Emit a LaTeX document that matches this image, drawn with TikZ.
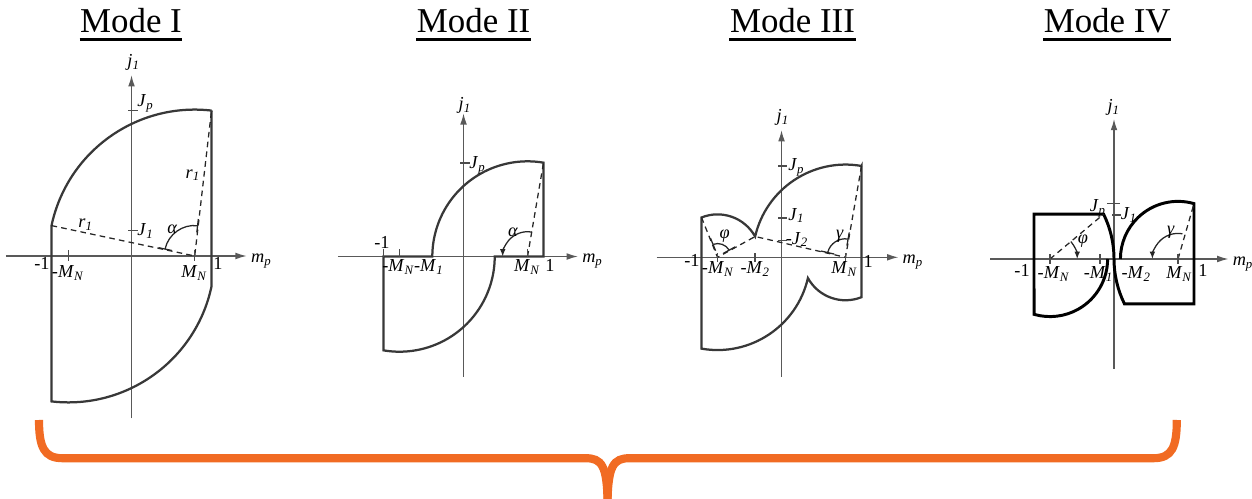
\documentclass[tikz,border=0pt]{standalone}
\usepackage{fontspec}
\setmainfont{Liberation Serif}
\usetikzlibrary{calc,arrows.meta}
\newcommand{\subsym}[2]{\textit{#1}\textsubscript{\textit{#2}}}
\definecolor{braceorange}{RGB}{241,107,35}
\tikzset{
ax/.style={line width=0.45pt,draw=black!65,-{Latex[length=4pt,width=2.4pt]}},
bound/.style={line width=0.8pt,draw=black!78},
rline/.style={line width=0.45pt,draw=black!85,dash pattern=on 2pt off 1.5pt},
angarc/.style={line width=0.45pt,draw=black!85},
angtip/.style={-{Latex[length=2.6pt,width=2pt]}},
tk/.style={line width=0.45pt,draw=black!70},
lbl/.style={font=\fontsize{6.5}{7.5}\selectfont,inner sep=0.5pt},
modetitle/.style={font=\fontsize{12.4}{15}\selectfont,inner sep=0pt,anchor=base},
brace/.style={line width=2.9pt,draw=braceorange}
}

\begin{document}
\begin{tikzpicture}
\useasboundingbox (0,0) rectangle (15.65,6.2375);
\foreach \t/\x/\s in {t1/1.6375/I,t2/5.92/II,t3/9.906/III,t4/13.84/IV}{
  \node[modetitle] (\t) at (\x,5.825) {Mode \s};
  \draw[line width=1pt] ([yshift=-2.3pt]\t.base west) -- ([yshift=-2.3pt]\t.base east);
}

% Mode I
\begin{scope}[shift={(1.644,3.0375)}]
\coordinate (MN) at (0.79,0); \coordinate (TR) at (1,1.818); \coordinate (TL) at (-1,0.38);
\draw[ax] (-1.57,0) -- (1.44,0);
\draw[ax] (0,-2.03) -- (0,2.26);
\draw[bound] (TR) -- (1,-0.38) arc[start angle=-11.99,end angle=-96.59,radius=1.83] -- (TL) arc[start angle=168.01,end angle=83.41,radius=1.83] -- cycle;
\draw[rline] (TL) -- (MN) -- (TR);
\draw[angarc,|-|] ([shift={(168.01:0.38)}]MN) arc[start angle=168.01,end angle=83.41,radius=0.38];
\foreach \x in {-0.79,0.79}{\draw[tk] (\x,-0.06) -- (\x,0.07);}
\foreach \y in {0.32,1.818}{\draw[tk] (-0.04,\y) -- (0.08,\y);}
\node[lbl] at (0.03,2.42) {\subsym{j}{1}};
\node[lbl,anchor=west] at (1.47,-0.06) {\subsym{m}{p}};
\node[lbl,anchor=base east] at (-1,-0.175) {-1};
\node[lbl,anchor=base west] at (1,-0.175) {1};
\node[lbl,anchor=base] at (-0.79,-0.266) {-\subsym{M}{N}};
\node[lbl,anchor=base] at (0.79,-0.266) {\subsym{M}{N}};
\node[lbl,anchor=base west] at (0.05,1.87) {\subsym{J}{p}};
\node[lbl,anchor=base west] at (0.05,0.26) {\subsym{J}{1}};
\node[lbl] at (0.77,1.01) {\subsym{r}{1}};
\node[lbl] at (-0.57,0.39) {\subsym{r}{1}};
\node[lbl] at (0.51,0.34) {\textit{α}};
\end{scope}

% Mode II
\begin{scope}[shift={(5.794,3.031)}]
\coordinate (MN) at (0.8,0); \coordinate (TR) at (1,1.173);
\draw[ax] (-1.57,0) -- (1.43,0);
\draw[ax] (0,-1.5) -- (0,1.79);
\draw[bound] (-1,0) -- (-0.39,0) arc[start angle=180,end angle=80.32,radius=1.19] -- (1,0) -- (0.39,0) arc[start angle=0,end angle=-99.68,radius=1.19] -- cycle;
\draw[rline] (MN) -- (TR);
\draw[angarc,angtip] ([shift={(80.32:0.31)}]MN) arc[start angle=80.32,end angle=180,radius=0.31];
\foreach \x in {-1,-0.8,0.8}{\draw[tk] (\x,0) -- (\x,0.09);}
\draw[tk] (-0.04,1.17) -- (0.08,1.17);
\node[lbl] at (0.02,1.89) {\subsym{j}{1}};
\node[lbl,anchor=west] at (1.46,-0.06) {\subsym{m}{p}};
\node[lbl,anchor=base] at (-1.02,0.1) {-1};
\node[lbl,anchor=base west] at (1,-0.19) {1};
\node[lbl,anchor=base] at (-0.81,-0.19) {-\subsym{M}{N}};
\node[lbl,anchor=base] at (-0.43,-0.19) {-\subsym{M}{1}};
\node[lbl,anchor=base] at (0.8,-0.19) {\subsym{M}{N}};
\node[lbl,anchor=base west] at (0.05,1.1) {\subsym{J}{p}};
\node[lbl] at (0.62,0.3) {\textit{α}};
\end{scope}

% Mode III
\begin{scope}[shift={(9.769,3.021)}]
\coordinate (MN) at (0.8,0); \coordinate (mMN) at (-0.8,0);
\coordinate (TR) at (1,1.142); \coordinate (TL) at (-1,0.498); \coordinate (C) at (-0.33,0.26);
\draw[ax] (-1.56,0) -- (1.46,0);
\draw[ax] (0,-1.49) -- (0,1.59);
\draw[bound] (TR) -- (1,-0.498) arc[start angle=-68.12,end angle=-151.05,radius=0.537] arc[start angle=-12.96,end angle=-99.93,radius=1.1595] -- (TL) arc[start angle=111.88,end angle=28.95,radius=0.537] arc[start angle=167.04,end angle=80.07,radius=1.1595] -- cycle;
\draw[rline] (TL) -- (mMN) -- (C) -- (MN) -- (TR);
\draw[angarc,|-|] ([shift={(111.88:0.17)}]mMN) arc[start angle=111.88,end angle=28.95,radius=0.17];
\draw[angarc,|-|] ([shift={(167.04:0.23)}]MN) arc[start angle=167.04,end angle=80.07,radius=0.23];
\foreach \x in {-0.8,-0.33,0.8}{\draw[tk] (\x,-0.06) -- (\x,0.06);}
\foreach \y in {0.21,0.49,1.14}{\draw[tk] (-0.04,\y) -- (0.07,\y);}
\node[lbl] at (0.02,1.75) {\subsym{j}{1}};
\node[lbl,anchor=west] at (1.49,-0.06) {\subsym{m}{p}};
\node[lbl,anchor=base east] at (-1,-0.12) {-1};
\node[lbl,anchor=base west] at (1,-0.13) {1};
\node[lbl,anchor=base] at (-0.79,-0.2) {-\subsym{M}{N}};
\node[lbl,anchor=base] at (-0.325,-0.2) {-\subsym{M}{2}};
\node[lbl,anchor=base] at (0.79,-0.2) {\subsym{M}{N}};
\node[lbl,anchor=base west] at (0.06,1.08) {\subsym{J}{p}};
\node[lbl,anchor=base west] at (0.06,0.466) {\subsym{J}{1}};
\node[lbl,anchor=base west] at (0.03,0.166) {-\subsym{J}{2}};
\node[lbl] at (-0.71,0.26) {\textit{φ}};
\node[lbl] at (0.73,0.26) {\textit{γ}};
\end{scope}

% Mode IV
\begin{scope}[shift={(13.925,3.0)}]
\coordinate (MN) at (0.8,0); \coordinate (mMN) at (-0.8,0);
\coordinate (TR) at (1,0.692); \coordinate (K) at (-0.13,0.56);
\draw[ax] (-1.55,0) -- (1.43,0);
\draw[ax] (0,-1.37) -- (0,1.75);
\draw[bound,line width=1.05pt,draw=black] (-0.08,0) arc[start angle=0,end angle=-106.12,radius=0.72] -- (-1,0.56) -- (K) arc[start angle=26.14,end angle=0,radius=1.271] arc[start angle=180,end angle=206.14,radius=1.271] -- (1,-0.56) -- (TR) arc[start angle=73.88,end angle=180,radius=0.72];
\draw[rline] (mMN) -- (K);
\draw[rline] (MN) -- (TR);
\draw[angarc,angtip] ([shift={(39.9:0.34)}]mMN) arc[start angle=39.9,end angle=0,radius=0.34];
\draw[angarc,angtip] ([shift={(80:0.32)}]MN) arc[start angle=80,end angle=180,radius=0.32];
\foreach \x in {-0.8,-0.175,0.8}{\draw[tk] (\x,-0.06) -- (\x,0.06);}
\draw[tk] (-0.09,0.69) -- (0.08,0.69);
\draw[tk] (-0.02,0.55) -- (0.09,0.55);
\node[lbl] at (0,1.89) {\subsym{j}{1}};
\node[lbl,anchor=west] at (1.46,-0.06) {\subsym{m}{p}};
\node[lbl,anchor=base east] at (-1.03,-0.22) {-1};
\node[lbl,anchor=base west] at (1.03,-0.22) {1};
\node[lbl,anchor=base] at (-0.75,-0.24) {-\subsym{M}{N}};
\node[lbl,anchor=base] at (-0.19,-0.24) {-\subsym{M}{1}};
\node[lbl,anchor=base west] at (0.07,-0.24) {-\subsym{M}{2}};
\node[lbl,anchor=base] at (0.82,-0.24) {\subsym{M}{N}};
\node[lbl,anchor=base east] at (-0.07,0.59) {\subsym{J}{p}};
\node[lbl,anchor=base west] at (0.06,0.49) {\subsym{J}{1}};
\node[lbl] at (-0.39,0.225) {\textit{φ}};
\node[lbl] at (0.71,0.33) {\textit{γ}};
\end{scope}

\draw[brace] (0.4875,0.9875) .. controls (0.4875,0.65) and (0.55,0.51) .. (0.78,0.51) -- (7.32,0.51) .. controls (7.52,0.51) and (7.59,0.42) .. (7.594,-0.05);
\draw[brace] (7.594,-0.05) .. controls (7.6,0.42) and (7.67,0.51) .. (7.87,0.51) -- (14.42,0.51) .. controls (14.65,0.51) and (14.71,0.65) .. (14.71,0.9875);
\end{tikzpicture}
\end{document}
